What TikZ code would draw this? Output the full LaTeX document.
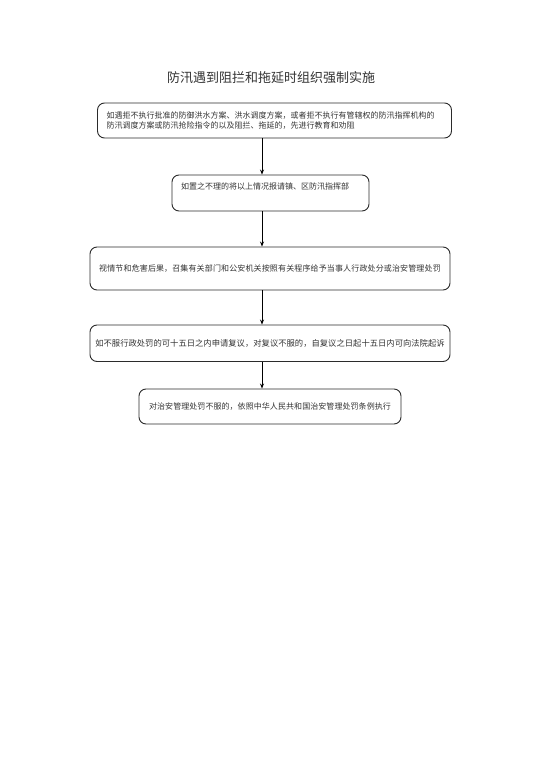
\documentclass[tikz,border=0pt]{standalone}
\usepackage{fontspec}
\newfontfamily\cjk{Noto Sans CJK SC}
\usepackage{xcolor}
\usetikzlibrary{arrows.meta}
\XeTeXlinebreaklocale "zh"
\XeTeXlinebreakskip = 0pt plus 1pt
\definecolor{lineColor}{HTML}{2B2B2B}
\definecolor{textColor}{HTML}{333333}

\begin{document}
\begin{tikzpicture}[x=1pt, y=-1pt,
    stepbox/.style={draw=lineColor, line width=0.9pt, rounded corners=7pt,
        inner xsep=9pt, inner ysep=0pt, text=textColor,
        font=\cjk\fontsize{8}{10}\selectfont},
    arr/.style={-{Stealth[length=5pt, width=4pt]}, line width=0.9pt, draw=black}]
    \useasboundingbox[fill=white] (0,0) rectangle (542,768);

    \node[text=textColor, font=\cjk\fontsize{13}{15}\selectfont] (title) at (271,78)
        {防汛遇到阻拦和拖延时组织强制实施};

    \node[stepbox, align=left, text width=336pt, minimum height=35pt] (refuse) at (274.5,120.5)
        {如遇拒不执行批准的防御洪水方案、洪水调度方案，或者拒不执行有管辖权的防汛指挥机构的\\防汛调度方案或防汛抢险指令的以及阻拦、拖延的，先进行教育和劝阻};
    \node[stepbox, align=left, text width=179pt, minimum height=36pt, text depth=13pt] (report) at (270.5,193)
        {如置之不理的将以上情况报请镇、区防汛指挥部};
    \node[stepbox, align=center, text width=346pt, minimum height=43pt, inner xsep=7pt] (punish) at (270,268.5)
        {视情节和危害后果，召集有关部门和公安机关按照有关程序给予当事人行政处分或治安管理处罚};
    \node[stepbox, align=center, text width=350pt, minimum height=36.5pt, inner xsep=5pt,
        font=\cjk\fontsize{8.3}{10}\selectfont] (review) at (270,343.25)
        {如不服行政处罚的可十五日之内申请复议，对复议不服的，自复议之日起十五日内可向法院起诉};
    \node[stepbox, align=center, text width=244pt, minimum height=35pt] (enforce) at (270,406.5)
        {对治安管理处罚不服的，依照中华人民共和国治安管理处罚条例执行};

    % arrows run down one vertical line
    \coordinate (ax) at (262,0);
    \draw[arr] (refuse.south -| ax) -- (report.north -| ax);
    \draw[arr] (report.south -| ax) -- (punish.north -| ax);
    \draw[arr] (punish.south -| ax) -- (review.north -| ax);
    \draw[arr] (review.south -| ax) -- (enforce.north -| ax);
\end{tikzpicture}
\end{document}
